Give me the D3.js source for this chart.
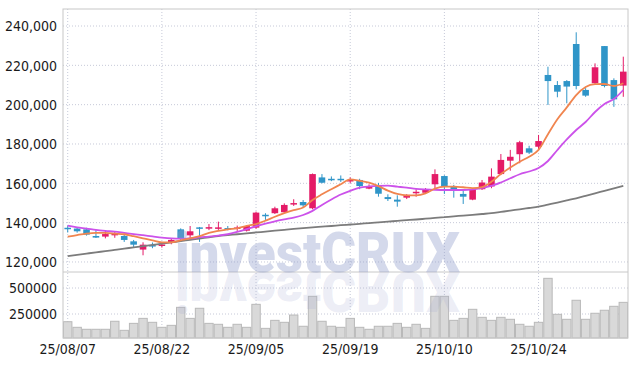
<!DOCTYPE html>
<meta charset="utf-8">
<style>
body { margin: 0; background: #fff; }
.grid line { stroke: #c6c9d8; stroke-dasharray: 1,2; }
.lbl { font-family: "DejaVu Sans Condensed", "DejaVu Sans", sans-serif; font-stretch: condensed; font-size: 14px; fill: #1a1a1a; }
</style>
<svg width="637" height="366"></svg>
<script src="https://d3js.org/d3.v7.min.js"></script>
<script>

// trading days
var dates = ["25/08/07","25/08/08","25/08/11","25/08/12","25/08/13","25/08/14","25/08/18","25/08/19","25/08/20","25/08/21",
  "25/08/22","25/08/25","25/08/26","25/08/27","25/08/28","25/08/29","25/09/01","25/09/02","25/09/03","25/09/04",
  "25/09/05","25/09/08","25/09/09","25/09/10","25/09/11","25/09/12","25/09/15","25/09/16","25/09/17","25/09/18",
  "25/09/19","25/09/22","25/09/23","25/09/24","25/09/25","25/09/26","25/09/29","25/09/30","25/10/01","25/10/02",
  "25/10/10","25/10/13","25/10/14","25/10/15","25/10/16","25/10/17","25/10/20","25/10/21","25/10/22","25/10/23",
  "25/10/24","25/10/27","25/10/28","25/10/29","25/10/30","25/10/31","25/11/03","25/11/04","25/11/05","25/11/06"];

var openPx = [137400,137000,136600,133200,132900,133550,133200,130500,126300,128600,
  128700,129800,136600,133550,137600,137500,137400,137250,137350,135900,
  137460,144000,144800,145300,149700,150500,147300,163000,162300,162300,
  161500,161700,157300,159100,153000,151700,152700,155500,155200,159500,
  163700,158600,154600,151700,157000,158400,164700,171500,174800,177800,
  178600,215100,210000,212000,230850,207500,210900,229800,212500,209700];

var closePx = [137200,135600,133900,132400,134200,134600,131200,128800,128800,128400,
  128900,131200,132200,135600,136950,137700,137600,137050,137550,138300,
  145100,143800,147300,149000,149950,148800,164700,160300,162100,162100,
  161700,158600,158600,154700,152000,150700,154100,155700,156950,164700,
  158300,156600,153200,157000,160400,163400,171900,173500,180900,175600,
  181500,212000,206600,209200,209500,204600,219000,209500,202700,216800];

var highPx = [138500,137600,137400,136200,135800,135700,134100,131200,130000,129900,
  130200,132000,137100,138300,137800,139300,140500,138300,138500,138800,
  145600,144800,148100,149800,151900,151500,165000,164700,163500,164000,
  163000,162300,159500,160200,154400,153900,154500,157000,157600,167100,
  164100,159200,157000,157500,161700,167600,174900,177000,181600,179100,
  184600,219300,212000,212500,236800,208400,221000,229800,213400,224400];

var lowPx = [135000,134900,133400,132200,132000,132300,130200,127600,123400,127000,
  127300,129000,130200,131800,130200,136200,136300,136100,135800,135500,
  136900,141400,144400,145000,148500,147800,146800,160000,161100,160700,
  160000,157000,157000,153200,151000,148100,152000,153200,154900,157000,
  154600,152700,149500,151400,156600,157500,164200,166400,170200,174900,
  177000,199850,203750,200700,207800,204000,210500,208800,198900,204000];

var volume = [176000,122000,103000,103000,103000,180000,93000,160000,208000,170000,
  122000,141000,314000,208000,305000,160000,151000,122000,151000,122000,
  343000,112000,189000,170000,240000,132000,420000,180000,132000,122000,
  208000,122000,103000,132000,132000,160000,122000,151000,112000,420000,
  420000,189000,208000,295000,218000,189000,218000,199000,151000,132000,
  170000,593000,247000,199000,382000,199000,257000,286000,324000,362000];

// moving averages
var ma5 = [132900,133700,134400,134750,134750,134400,134100,133100,132050,131000,
  130000,130000,131000,132000,133200,134800,135800,136600,137100,138300,
  139300,141000,143000,144800,146400,147700,151500,154400,157000,159500,
  162000,161300,160300,158600,156300,154600,153900,153900,154900,157300,
  158300,158300,158000,157600,158100,160800,164700,168000,171000,173500,
  177000,185000,192600,198600,204900,209000,210400,210500,209500,210900];

var ma20 = [138460,137600,137000,136300,135800,135400,134800,134200,133600,133000,
  132400,132000,131900,132000,132600,132900,133400,134100,135300,136700,
  138200,139500,140700,141700,142600,143900,146000,149000,151800,154300,
  156200,157800,158400,158700,158800,158300,157800,157200,156900,156700,
  156600,156600,156600,156900,157630,158650,160430,162560,164600,166020,
  167800,171360,176950,182290,187120,191190,196280,200340,202890,207460];

var ma60 = [122950,123600,124250,124900,125500,126150,126800,127400,128050,128700,
  129300,129950,130600,131250,131900,132550,133200,133650,134100,134550,
  135000,135450,135900,136350,136800,137200,137600,137950,138300,138700,
  139050,139400,139800,140150,140500,140900,141250,141600,142000,142400,
  142800,143200,143600,144000,144400,144800,145450,146100,146800,147450,
  148100,149150,150200,151300,152400,153650,154900,156150,157400,158650];

var priceTicks = [120000,140000,160000,180000,200000,220000,240000];
var volumeTicks = [250000,500000];
var dateTicks = ["25/08/07","25/08/22","25/09/05","25/09/19","25/10/10","25/10/24"];

var svg = d3.select("svg");
var plotLeft = 63, plotRight = 628, plotTop = 9, priceBottom = 272, volBottom = 338;

var x = d3.scaleBand().domain(dates).range([plotLeft, plotRight]).paddingInner(0.3).paddingOuter(0.15);
var cx = function(d) { return x(d) + x.bandwidth() / 2; };
var y = d3.scaleLinear().domain([114900, 248650]).range([priceBottom, plotTop]);
var yv = d3.scaleLinear().domain([19230, 653850]).range([volBottom, priceBottom]);

var upColor = "#e41b67", downColor = "#2f95c8";

// grid
var grid = svg.append("g").attr("class", "grid");
grid.selectAll(".hp").data(priceTicks).enter().append("line")
    .attr("x1", plotLeft).attr("x2", plotRight)
    .attr("y1", function(d) { return y(d); }).attr("y2", function(d) { return y(d); });
grid.selectAll(".hv").data(volumeTicks).enter().append("line")
    .attr("x1", plotLeft).attr("x2", plotRight)
    .attr("y1", function(d) { return yv(d); }).attr("y2", function(d) { return yv(d); });
grid.selectAll(".v").data(dateTicks).enter().append("line")
    .attr("x1", cx).attr("x2", cx)
    .attr("y1", plotTop).attr("y2", volBottom);

// volume bars
var bw = x.step() - 1;
svg.append("g").selectAll("rect")
  .data(dates)
  .enter().append("rect")
    .attr("x", function(d) { return cx(d) - bw / 2; })
    .attr("width", bw)
    .attr("y", function(d, i) { return yv(volume[i]); })
    .attr("height", function(d, i) { return volBottom - yv(volume[i]); })
    .attr("fill", "#d9d9d9")
    .attr("stroke", "#b9b9b9")
    .attr("stroke-width", 1);

// candles
var candle = svg.append("g").selectAll("g")
  .data(dates)
  .enter().append("g")
    .attr("fill", function(d, i) { return closePx[i] >= openPx[i] ? upColor : downColor; })
    .attr("stroke", function(d, i) { return closePx[i] >= openPx[i] ? upColor : downColor; });

candle.append("line")
    .attr("x1", cx).attr("x2", cx)
    .attr("y1", function(d, i) { return y(highPx[i]); })
    .attr("y2", function(d, i) { return y(lowPx[i]); })
    .attr("stroke-width", 1);

candle.append("rect")
    .attr("x", function(d) { return x(d); })
    .attr("width", x.bandwidth())
    .attr("y", function(d, i) { return y(Math.max(openPx[i], closePx[i])); })
    .attr("height", function(d, i) { return Math.max(1.5, Math.abs(y(openPx[i]) - y(closePx[i]))); })
    .attr("stroke", "none");

// moving averages
var maLine = function(vals) {
  return d3.line()
    .x(function(d) { return cx(d); })
    .y(function(d, i) { return y(vals[i]); })
    .curve(d3.curveMonotoneX)(dates);
};
[[ma60, "#7c7c7c"], [ma20, "#cc52ea"], [ma5, "#f0854f"]].forEach(function(s) {
  svg.append("path")
      .attr("d", maLine(s[0]))
      .attr("fill", "none")
      .attr("stroke", s[1])
      .attr("stroke-width", 1.8);
});

// frame
var frame = svg.append("g").attr("stroke", "#c8c8c8").attr("fill", "none");
frame.append("rect").attr("x", plotLeft).attr("y", plotTop).attr("width", plotRight - plotLeft).attr("height", volBottom - plotTop);
frame.append("line").attr("x1", plotLeft).attr("x2", plotRight).attr("y1", priceBottom).attr("y2", priceBottom);

// labels
svg.append("g").selectAll("text").data(priceTicks).enter().append("text")
    .attr("class", "lbl")
    .attr("x", 57).attr("y", function(d) { return y(d); })
    .attr("dy", "0.38em")
    .attr("text-anchor", "end")
    .text(d3.format(","));
svg.append("g").selectAll("text").data(volumeTicks).enter().append("text")
    .attr("class", "lbl")
    .attr("x", 57).attr("y", function(d) { return yv(d); })
    .attr("dy", "0.38em")
    .attr("text-anchor", "end")
    .text(function(d) { return d; });
svg.append("g").selectAll("text").data(dateTicks).enter().append("text")
    .attr("class", "lbl")
    .attr("x", cx).attr("y", 354)
    .attr("text-anchor", "middle")
    .text(function(d) { return d; });

// watermark
var wm = svg.append("g")
    .attr("font-family", "Roboto, sans-serif")
    .attr("font-weight", 900)
    .attr("font-size", 56);
wm.append("text")
    .attr("x", 175).attr("y", priceBottom)
    .attr("textLength", 285).attr("lengthAdjust", "spacingAndGlyphs")
    .attr("fill", "#8f9acb").attr("fill-opacity", 0.38)
    .text("investCRUX");
wm.append("text")
    .attr("x", 175).attr("y", priceBottom)
    .attr("transform", "translate(0," + (2 * priceBottom) + ") scale(1,-1)")
    .attr("textLength", 285).attr("lengthAdjust", "spacingAndGlyphs")
    .attr("fill", "#a0a8d0").attr("fill-opacity", 0.2)
    .text("investCRUX");

</script>
